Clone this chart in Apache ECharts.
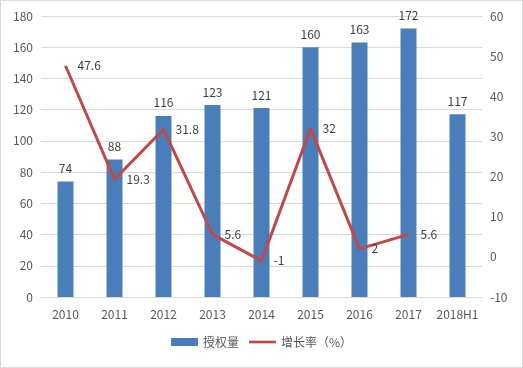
<!DOCTYPE html>
<html><head><meta charset="utf-8">
<script src="https://cdn.jsdelivr.net/npm/echarts@6/dist/echarts.min.js"></script>
<style>
html,body{margin:0;padding:0;background:#fff;}
#c{width:521px;height:366px;border:1px solid #d9d9d9;}
</style></head>
<body><div id="c"></div>
<script>
var categories = ['2010','2011','2012','2013','2014','2015','2016','2017','2018H1'];
var grants = [74, 88, 116, 123, 121, 160, 163, 172, 117];
var growth = [47.6, 19.3, 31.8, 5.6, -1, 32, 2, 5.6, null];
var leftTicks = {min: 0, max: 180, interval: 20};
var rightTicks = {min: -10, max: 60, interval: 10};

var font = '"Noto Sans CJK SC", "DejaVu Sans", sans-serif';
var chart = echarts.init(document.getElementById('c'));
chart.setOption({
  animation: false,
  textStyle: {fontFamily: font},
  grid: {left: 40, right: 40, top: 15, bottom: 70},
  legend: {
    bottom: 14, left: 'center', itemGap: 10,
    textStyle: {color: '#595959', fontSize: 12, fontFamily: font},
    data: [
      {name: '授权量', icon: 'rect', itemStyle: {color: '#4a7ebb'}},
      {name: '增长率（%）', icon: 'path://M0 0H30V3H0Z', itemStyle: {color: '#be4b48'}}
    ],
    itemWidth: 27, itemHeight: 8
  },
  xAxis: {
    type: 'category', data: categories,
    axisLine: {lineStyle: {color: '#d9d9d9'}},
    axisTick: {show: false},
    axisLabel: {color: '#595959', fontSize: 12, margin: 11, interval: 0, fontFamily: font}
  },
  yAxis: [
    {type: 'value', min: leftTicks.min, max: leftTicks.max, interval: leftTicks.interval,
     axisLine: {show: false}, axisTick: {show: false},
     splitLine: {lineStyle: {color: '#d9d9d9'}},
     axisLabel: {color: '#595959', fontSize: 12, margin: 8, fontFamily: font}},
    {type: 'value', min: rightTicks.min, max: rightTicks.max, interval: rightTicks.interval,
     axisLine: {show: false}, axisTick: {show: false},
     splitLine: {show: false},
     axisLabel: {color: '#595959', fontSize: 12, margin: 8, fontFamily: font}}
  ],
  series: [
    {name: '授权量', type: 'bar', data: grants, barWidth: 16,
     itemStyle: {color: '#4a7ebb'},
     label: {show: true, position: 'top', distance: 7, color: '#404040', fontSize: 12, fontFamily: font}},
    {name: '增长率（%）', type: 'line', yAxisIndex: 1, data: growth,
     symbol: 'circle', symbolSize: 0.01, showSymbol: true, connectNulls: false,
     lineStyle: {color: '#be4b48', width: 3},
     itemStyle: {color: '#be4b48'},
     label: {show: true, position: 'right', distance: 12, color: '#404040', fontSize: 12, fontFamily: font}}
  ]
});
</script></body></html>
